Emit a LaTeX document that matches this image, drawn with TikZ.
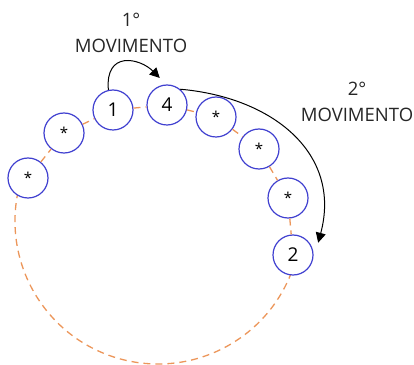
\documentclass[tikz,border=0pt]{standalone}
\usepackage{fontspec}
\setmainfont{Open Sans}
\usetikzlibrary{arrows.meta,calc}
\definecolor{ringblue}{RGB}{64,64,208}
\definecolor{linkorange}{RGB}{236,150,90}
\begin{document}
\begin{tikzpicture}[x=1pt,y=1pt,
  slot/.style={circle, draw=ringblue, line width=1.2pt, fill=white,
    minimum size=40pt, inner sep=0pt, font=\fontsize{19}{19}\selectfont},
  star/.style={slot, font=\fontsize{15}{15}\selectfont},
  link/.style={draw=linkorange, line width=1.3pt, dash pattern=on 7pt off 5pt},
  move/.style={draw=black, line width=1pt, -{Triangle[length=10pt,width=10pt]}},
  caption/.style={align=center, font=\fontsize{18.5}{26}\selectfont, text=black!85}]
\useasboundingbox (0,0) rectangle (414,364);

% closing arc of the ring, behind the slots
\draw[link] (158,143) ++(168:143) arc[start angle=168, end angle=340, radius=143];

% slots around the ring
\node[star] (s1) at (28,186) {*};
\node[star] (s2) at (64,231) {*};
\node[slot] (n1) at (113,254) {1};
\node[slot] (n4) at (167,259) {4};
\node[star] (s3) at (216,247) {*};
\node[star] (s4) at (259,215) {*};
\node[star] (s5) at (288,166) {*};
\node[slot] (n2) at (293,109) {2};

% links between neighbouring slots
\draw[link] (s1) -- (s2);
\draw[link] (s2) -- (n1);
\draw[link] (n1) -- (n4);
\draw[link] (n4) -- (s3);
\draw[link] (s3) -- (s4);
\draw[link] (s4) -- (s5);
\draw[link] (s5) -- (n2);

% the two moves
\draw[move] (n1.103) .. controls +(95:40) and +(135:28) .. ($(n4.center)+(105:28)$);
\draw[move] (n4.50) to[out=-5, in=75, looseness=1.15] ($(n2.center)+(26:28)$);

\node[caption] (m1) at (131,331) {1°\\MOVIMENTO};
\node[caption] (m2) at (357,262) {2°\\MOVIMENTO};
\end{tikzpicture}
\end{document}
